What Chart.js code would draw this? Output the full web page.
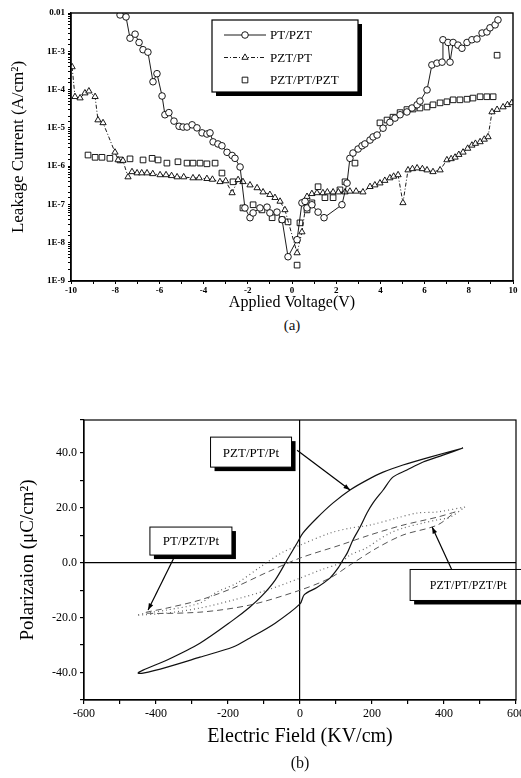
<!DOCTYPE html>
<html>
<head>
<meta charset="utf-8">
<script src="https://cdn.jsdelivr.net/npm/chart.js@4.4.0/dist/chart.umd.min.js"></script>
<style>
html, body { margin: 0; padding: 0; background: #fff; }
#wrap { position: relative; width: 521px; height: 778px; overflow: hidden; font-family: "Liberation Serif", serif; color: #111; }
#leak { position: absolute; left: 0; top: 0; }
#hyst { position: absolute; left: 0; top: 370px; }
.cap { position: absolute; width: 100px; text-align: center; line-height: 18px; }
</style>
</head>
<body>
<div id="wrap">
  <canvas id="leak" width="521" height="312"></canvas>
  <div class="cap" style="left:242px; top:316px; font-size:15px;">(a)</div>
  <canvas id="hyst" width="521" height="390"></canvas>
  <div class="cap" style="left:250px; top:754px; font-size:16px;">(b)</div>
</div>
<script>
// (a) leakage current: voltage [V] / current density [A/cm2]
const ptPztV = [-7.78, -7.51, -7.33, -7.10, -6.92, -6.74, -6.52, -6.29, -6.11, -5.88,
  -5.75, -5.57, -5.34, -5.11, -4.93, -4.75, -4.52, -4.30, -4.07, -3.85,
  -3.71, -3.57, -3.35, -3.17, -2.94, -2.71, -2.58, -2.35, -2.13, -1.90,
  -1.76, -1.45, -1.13, -1.00, -0.68, -0.45, -0.18, 0.23, 0.45, 0.59,
  0.68, 0.90, 1.18, 1.45, 2.26, 2.49, 2.62, 2.76, 2.99, 3.17,
  3.30, 3.53, 3.67, 3.85, 4.12, 4.43, 4.66, 4.89, 5.20, 5.43,
  5.66, 5.79, 6.11, 6.33, 6.56, 6.79, 6.83, 7.06, 7.15, 7.29,
  7.51, 7.69, 7.92, 8.14, 8.37, 8.60, 8.82, 8.96, 9.19, 9.32];
const ptPztJ = [8.9e-3, 7.9e-3, 2.2e-3, 2.8e-3, 1.7e-3, 1.1e-3, 9.5e-4, 1.6e-4, 2.6e-4, 6.8e-5,
  2.2e-5, 2.5e-5, 1.5e-5, 1.1e-5, 1.05e-5, 1.05e-5, 1.2e-5, 1.0e-5, 7.4e-6, 6.9e-6,
  7.4e-6, 4.3e-6, 3.8e-6, 3.4e-6, 2.3e-6, 1.9e-6, 1.6e-6, 9.5e-7, 8.1e-8, 4.5e-8,
  6.0e-8, 8.1e-8, 8.5e-8, 6.0e-8, 6.3e-8, 4.0e-8, 4.3e-9, 1.2e-8, 1.1e-7, 1.2e-7,
  8.1e-8, 9.8e-8, 6.3e-8, 4.5e-8, 9.8e-8, 3.6e-7, 1.6e-6, 2.2e-6, 2.8e-6, 3.4e-6,
  3.8e-6, 4.8e-6, 5.8e-6, 6.5e-6, 9.8e-6, 1.4e-5, 1.8e-5, 2.2e-5, 2.6e-5, 3.3e-5,
  4.0e-5, 5.0e-5, 9.8e-5, 4.4e-4, 4.9e-4, 5.2e-4, 2.0e-3, 1.7e-3, 5.2e-4, 1.7e-3,
  1.45e-3, 1.2e-3, 1.7e-3, 2.0e-3, 2.1e-3, 3.0e-3, 3.2e-3, 4.1e-3, 4.9e-3, 6.6e-3];

const pztPtV = [-9.95, -9.82, -9.59, -9.37, -9.19, -8.91, -8.78, -8.55, -8.01, -7.87,
  -7.65, -7.42, -7.24, -7.01, -6.80, -6.56, -6.30, -5.97, -5.70, -5.45,
  -5.20, -4.90, -4.48, -4.20, -3.85, -3.60, -3.26, -3.00, -2.71, -2.44,
  -2.22, -1.90, -1.58, -1.31, -1.00, -0.77, -0.54, -0.32, 0.23, 0.45,
  0.68, 0.90, 1.13, 1.40, 1.60, 1.86, 2.10, 2.40, 2.62, 2.90,
  3.21, 3.53, 3.75, 3.98, 4.20, 4.43, 4.60, 4.80, 5.02, 5.25,
  5.45, 5.66, 5.90, 6.11, 6.38, 6.70, 7.01, 7.20, 7.38, 7.55,
  7.74, 7.95, 8.14, 8.30, 8.51, 8.70, 8.87, 9.05, 9.28, 9.55,
  9.75, 9.95];
const pztPtJ = [3.9e-4, 6.5e-5, 6.0e-5, 8.1e-5, 9.1e-5, 6.5e-5, 1.6e-5, 1.35e-5, 2.3e-6, 1.45e-6,
  1.4e-6, 5.2e-7, 7.1e-7, 6.6e-7, 6.6e-7, 6.6e-7, 6.3e-7, 5.9e-7, 5.9e-7, 5.6e-7,
  5.2e-7, 5.2e-7, 4.9e-7, 4.9e-7, 4.7e-7, 4.5e-7, 3.9e-7, 4.1e-7, 2.0e-7, 4.4e-7,
  3.9e-7, 3.2e-7, 2.7e-7, 2.1e-7, 1.8e-7, 1.5e-7, 1.2e-7, 7.2e-8, 5.4e-9, 1.9e-8,
  1.6e-7, 1.9e-7, 2.0e-7, 2.0e-7, 2.1e-7, 2.1e-7, 2.1e-7, 2.1e-7, 2.2e-7, 2.2e-7,
  2.1e-7, 2.9e-7, 3.2e-7, 3.6e-7, 4.2e-7, 4.9e-7, 5.4e-7, 5.9e-7, 1.1e-7, 7.9e-7,
  8.5e-7, 8.9e-7, 8.5e-7, 7.9e-7, 7.1e-7, 7.9e-7, 1.45e-6, 1.55e-6, 1.7e-6, 2.0e-6,
  2.3e-6, 2.9e-6, 3.5e-6, 3.9e-6, 4.3e-6, 5.0e-6, 5.8e-6, 2.6e-5, 3.0e-5, 3.5e-5,
  4.0e-5, 4.5e-5];

const pztPtPztV = [-9.23, -8.91, -8.60, -8.24, -7.78, -7.33, -6.74, -6.33, -6.06, -5.66,
  -5.16, -4.75, -4.48, -4.16, -3.85, -3.48, -3.17, -2.67, -2.22, -1.76,
  -1.36, -0.90, -0.45, -0.18, 0.23, 0.36, 0.68, 0.90, 1.18, 1.49,
  1.86, 2.17, 2.40, 2.85, 3.98, 4.30, 4.57, 4.89, 5.20, 5.48,
  5.79, 6.11, 6.38, 6.70, 7.01, 7.29, 7.60, 7.92, 8.19, 8.51,
  8.82, 9.10, 9.28];
const pztPtPztJ = [1.95e-6, 1.7e-6, 1.7e-6, 1.6e-6, 1.45e-6, 1.55e-6, 1.45e-6, 1.6e-6, 1.45e-6, 1.2e-6,
  1.3e-6, 1.2e-6, 1.2e-6, 1.2e-6, 1.15e-6, 1.2e-6, 6.6e-7, 3.9e-7, 8.1e-8, 9.8e-8,
  7.2e-8, 4.5e-8, 4.0e-8, 3.5e-8, 2.6e-9, 3.3e-8, 7.2e-8, 1.1e-7, 2.9e-7, 1.5e-7,
  1.5e-7, 2.4e-7, 3.9e-7, 1.2e-6, 1.35e-5, 1.6e-5, 1.9e-5, 2.5e-5, 3.0e-5, 3.1e-5,
  3.3e-5, 3.5e-5, 4.0e-5, 4.5e-5, 4.8e-5, 5.4e-5, 5.4e-5, 5.6e-5, 6.0e-5, 6.5e-5,
  6.5e-5, 6.5e-5, 7.9e-4];

// (b) hysteresis loops: field [KV/cm] / polarization [uC/cm2]
const loopPztPtE = [453, 361, 286, 231, 186, 139, 92, 47, 8, -8,
  -36, -69, -106, -139, -186, -278, -369, -436, -450,
  -436, -369, -278, -186, -139, -69, 0, 12, 47, 83,
  106, 119, 131, 147, 167, 186, 203, 231, 258, 297,
  342, 397, 453];
const loopPztPtP = [41.8, 38.5, 35.6, 33.0, 30.1, 26.5, 21.8, 16.3, 10.8, 7.2,
  1.0, -6.3, -12.1, -16.1, -20.9, -29.3, -35.4, -39.1, -40.2,
  -40.2, -38.0, -34.4, -30.7, -27.4, -22.0, -15.0, -11.6, -9.0, -5.6,
  -1.9, 1.0, 3.5, 8.3, 13.0, 18.1, 21.8, 26.5, 31.2, 33.8,
  36.7, 39.2, 41.8];

const loopPtPztE = [458, 381, 325, 269, 194, 139, 83, 0, -47, -111,
  -175, -231, -278, -369, -425, -453,
  -369, -278, -186, -92, 0, 56, 111, 139, 186, 220, 250, 286, 342, 381, 417, 458];
const loopPtPztP = [20.3, 18.5, 18.1, 16.3, 13.7, 12.6, 10.8, 6.4, 3.9, -1.6,
  -7.4, -10.7, -14.7, -17.2, -18.3, -19.1,
  -18.3, -16.5, -13.6, -10.0, -5.6, -2.7, -0.1, 2.8, 5.5, 8.5, 10.8, 12.6, 14.5, 15.6, 16.6, 20.3];

const loopTriE = [431, 381, 286, 194, 111, 0, -92, -186, -278, -369, -431,
  -278, -139, 0, 83, 139, 214, 286, 381, 431];
const loopTriP = [18.5, 16.6, 13.7, 10.1, 6.4, 1.7, -3.5, -9.2, -13.6, -16.5, -18.3,
  -18.0, -15.4, -10.0, -5.6, -0.8, 5.4, 10.1, 13.7, 18.5];

const SERIF = '"Liberation Serif", "Times New Roman", serif';

const toPoints = (xs, ys) => xs.map((x, i) => ({ x, y: ys[i] }));

// frame around plot area
const frame = {
    id: 'frame',
    afterDraw(chart, args, opts) {
        const { ctx, chartArea: a } = chart;
        ctx.save();
        ctx.strokeStyle = '#000';
        ctx.lineWidth = opts.width || 1.2;
        ctx.strokeRect(a.left, a.top, a.right - a.left, a.bottom - a.top);
        ctx.restore();
    }
};

// legend box with drop shadow, inside plot (a)
const insetLegend = {
    id: 'insetLegend',
    afterDraw(chart, args, opts) {
        const { ctx } = chart;
        const { x, y, w, h, rowH } = opts;
        ctx.save();
        ctx.fillStyle = '#000';
        ctx.fillRect(x + 4, y + 4, w, h);
        ctx.fillStyle = '#fff';
        ctx.fillRect(x, y, w, h);
        ctx.strokeStyle = '#000';
        ctx.lineWidth = 1.2;
        ctx.strokeRect(x, y, w, h);
        chart.data.datasets.forEach((ds, i) => {
            const cy = y + 15 + i * rowH;
            if (ds.showLine !== false) {
                ctx.setLineDash(ds.borderDash || []);
                ctx.lineWidth = ds.borderWidth;
                ctx.beginPath();
                ctx.moveTo(x + 12, cy);
                ctx.lineTo(x + 54, cy);
                ctx.stroke();
            }
            ctx.setLineDash([]);
            ctx.fillStyle = '#fff';
            ctx.lineWidth = ds.pointBorderWidth;
            Chart.helpers.drawPoint(ctx, {
                pointStyle: ds.pointStyle, radius: ds.pointRadius,
                rotation: 0, borderWidth: ds.pointBorderWidth
            }, x + 33, cy);
            ctx.fillStyle = '#000';
            ctx.font = '13px ' + SERIF;
            ctx.textBaseline = 'middle';
            ctx.fillText(ds.label, x + 58, cy + 1);
        });
        ctx.restore();
    }
};

// labelled boxes with arrows, plot (b)
const callouts = {
    id: 'callouts',
    afterDatasetsDraw(chart, args, opts) {
        const { ctx } = chart;
        const sx = chart.scales.x, sy = chart.scales.y;
        ctx.save();
        opts.items.forEach(it => {
            const fx = sx.getPixelForValue(it.from[0]), fy = sy.getPixelForValue(it.from[1]);
            const tx = sx.getPixelForValue(it.to[0]), ty = sy.getPixelForValue(it.to[1]);
            ctx.strokeStyle = '#000';
            ctx.fillStyle = '#000';
            ctx.lineWidth = 1.2;
            ctx.beginPath();
            ctx.moveTo(fx, fy);
            ctx.lineTo(tx, ty);
            ctx.stroke();
            const ang = Math.atan2(ty - fy, tx - fx);
            ctx.beginPath();
            ctx.moveTo(tx, ty);
            ctx.lineTo(tx - 7 * Math.cos(ang - 0.35), ty - 7 * Math.sin(ang - 0.35));
            ctx.lineTo(tx - 7 * Math.cos(ang + 0.35), ty - 7 * Math.sin(ang + 0.35));
            ctx.closePath();
            ctx.fill();

            const cx = sx.getPixelForValue(it.box[0]), cy = sy.getPixelForValue(it.box[1]);
            const l = cx - it.w / 2, t = cy - it.h / 2;
            ctx.fillRect(l + 4, t + 4, it.w, it.h);
            ctx.fillStyle = '#fff';
            ctx.fillRect(l, t, it.w, it.h);
            ctx.lineWidth = 1;
            ctx.strokeRect(l, t, it.w, it.h);
            ctx.fillStyle = '#000';
            ctx.font = it.size + 'px ' + SERIF;
            ctx.textAlign = 'center';
            ctx.textBaseline = 'middle';
            ctx.fillText(it.text, cx, cy + 1);
        });
        ctx.restore();
    }
};

Chart.defaults.font.family = SERIF;
Chart.defaults.color = '#000';

const marker = (style, r) => ({
    pointStyle: style,
    pointRadius: r,
    pointBorderWidth: 0.9,
    pointBackgroundColor: '#fff',
    pointBorderColor: '#000',
    borderColor: '#000',
    borderWidth: 0.9
});

new Chart(document.getElementById('leak'), {
    type: 'line',
    data: {
        datasets: [
            { label: 'PT/PZT', data: toPoints(ptPztV, ptPztJ), ...marker('circle', 3.3) },
            { label: 'PZT/PT', data: toPoints(pztPtV, pztPtJ), ...marker('triangle', 3.6), borderDash: [4, 2, 1, 2] },
            { label: 'PZT/PT/PZT', data: toPoints(pztPtPztV, pztPtPztJ), ...marker('rect', 4.0), showLine: false }
        ]
    },
    options: {
        responsive: false,
        animation: false,
        layout: { padding: { top: 13, right: 8, left: 0, bottom: 0 } },
        plugins: {
            legend: { display: false },
            tooltip: { enabled: false },
            frame: { width: 1.4 },
            insetLegend: { x: 212, y: 20, w: 146, h: 72, rowH: 22.5 }
        },
        scales: {
            x: {
                type: 'linear',
                min: -10, max: 10,
                afterFit(s) { s.height = 31; s.paddingLeft = 0; s.paddingRight = 0; },
                ticks: {
                    stepSize: 1, autoSkip: false, maxRotation: 0, padding: 1,
                    font: { size: 9, weight: 'bold' },
                    callback: v => (v % 2 === 0 ? v : '')
                },
                grid: { drawOnChartArea: false, tickLength: 3, color: '#000' },
                border: { color: '#000', width: 1.4 },
                title: { display: true, text: 'Applied Voltage(V)', font: { size: 16 }, padding: { top: 0, bottom: 0 } }
            },
            y: {
                type: 'logarithmic',
                min: 1e-9, max: 1e-2,
                afterFit(s) { s.width = 71; s.paddingTop = 0; s.paddingBottom = 0; },
                ticks: {
                    autoSkip: false, padding: 3,
                    font: { size: 9, weight: 'bold' },
                    callback: v => {
                        const e = Math.round(Math.log10(v));
                        if (Math.abs(v / Math.pow(10, e) - 1) > 1e-6) return '';
                        return e === -2 ? '0.01' : '1E' + e;
                    }
                },
                grid: { drawOnChartArea: false, tickLength: 3, color: '#000' },
                border: { color: '#000', width: 1.4 },
                title: { display: true, text: 'Leakage Current (A/cm²)', font: { size: 17 }, padding: { top: 8, bottom: 0 } }
            }
        }
    },
    plugins: [frame, insetLegend]
});

new Chart(document.getElementById('hyst'), {
    type: 'line',
    data: {
        datasets: [
            { label: 'PZT/PT/Pt', data: toPoints(loopPztPtE, loopPztPtP), borderColor: '#111', borderWidth: 1.2, pointRadius: 0, tension: 0.3 },
            { label: 'PT/PZT/Pt', data: toPoints(loopPtPztE, loopPtPztP), borderColor: '#666', borderWidth: 1.2, borderDash: [1, 3], pointRadius: 0, tension: 0.3 },
            { label: 'PZT/PT/PZT/Pt', data: toPoints(loopTriE, loopTriP), borderColor: '#555', borderWidth: 1, borderDash: [6, 4], pointRadius: 0, tension: 0.3 }
        ]
    },
    options: {
        responsive: false,
        animation: false,
        layout: { padding: { top: 50, right: 5, left: 0, bottom: 0 } },
        plugins: {
            legend: { display: false },
            tooltip: { enabled: false },
            frame: { width: 1.2 },
            callouts: {
                items: [
                    { text: 'PZT/PT/Pt', size: 13, box: [-136, 40.3], w: 81, h: 30, from: [-8, 41], to: [139, 26.5] },
                    { text: 'PT/PZT/Pt', size: 13, box: [-303, 7.9], w: 82, h: 28, from: [-347, 2.6], to: [-422, -17.2] },
                    { text: 'PZT/PT/PZT/Pt', size: 12, box: [467, -8.1], w: 116, h: 31, from: [422, -2.6], to: [367, 13] }
                ]
            }
        },
        scales: {
            x: {
                type: 'linear',
                min: -600, max: 600,
                afterFit(s) { s.height = 60; s.paddingLeft = 0; s.paddingRight = 0; },
                ticks: {
                    stepSize: 100, autoSkip: false, maxRotation: 0, padding: 3,
                    font: { size: 12 },
                    callback: v => (v % 200 === 0 ? v : '')
                },
                grid: {
                    drawOnChartArea: true, tickLength: 4, tickColor: '#000', lineWidth: 1.2,
                    color: c => (c.tick && c.tick.value === 0 ? '#000' : 'rgba(0,0,0,0)')
                },
                border: { color: '#000', width: 1.2 },
                title: { display: true, text: 'Electric Field (KV/cm)', font: { size: 20 }, padding: { top: 0, bottom: 11 } }
            },
            y: {
                type: 'linear',
                min: -50, max: 52,
                afterFit(s) { s.width = 84; s.paddingTop = 0; s.paddingBottom = 0; },
                ticks: {
                    stepSize: 10, autoSkip: false, padding: 3,
                    font: { size: 12 },
                    callback: v => (v % 20 === 0 && Math.abs(v) <= 40 ? v.toFixed(1) : '')
                },
                grid: {
                    drawOnChartArea: true, tickLength: 4, tickColor: '#000', lineWidth: 1.2,
                    color: c => (c.tick && c.tick.value === 0 ? '#000' : 'rgba(0,0,0,0)')
                },
                border: { color: '#000', width: 1.2 },
                title: { display: true, text: 'Polarizaion (μC/cm²)', font: { size: 19 }, padding: { top: 17, bottom: 0 } }
            }
        }
    },
    plugins: [frame, callouts]
});
</script>
</body>
</html>
